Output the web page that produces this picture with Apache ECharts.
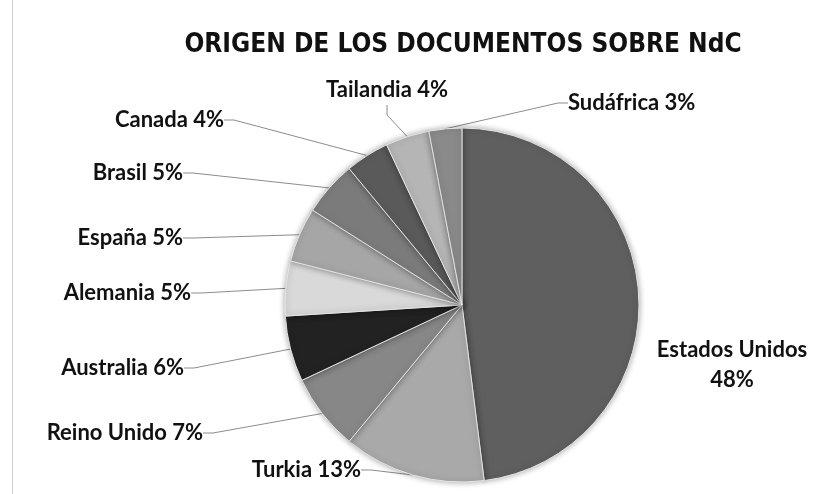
<!DOCTYPE html>
<html>
<head>
<meta charset="utf-8">
<script src="https://cdn.jsdelivr.net/npm/echarts@6/dist/echarts.min.js"></script>
<style>
html, body { margin: 0; padding: 0; background: #fff; }
#main { width: 821px; height: 494px; }
</style>
</head>
<body>
<div id="main"></div>
<script>
// datos del grafico
var paises = ['Estados Unidos', 'Turkia', 'Reino Unido', 'Australia', 'Alemania', 'España', 'Brasil', 'Canada', 'Tailandia', 'Sudáfrica'];
var porcentajes = [48, 13, 7, 6, 5, 5, 5, 4, 4, 3];
var colores = ['#5f5f5f', '#a9a9a9', '#878787', '#222222', '#d9d9d9', '#a6a6a6', '#7b7b7b', '#5a5a5a', '#b5b5b5', '#8a8a8a'];
// posicion de cada etiqueta [x, y, alineacion]
var posEtiquetas = [
	[732, 365, 'center'],
	[361, 470, 'right'],
	[203, 433, 'right'],
	[184, 368, 'right'],
	[191, 293, 'right'],
	[183, 238, 'right'],
	[183, 173, 'right'],
	[224, 120, 'right'],
	[448, 90, 'right'],
	[568, 103, 'left']
];

var myChart = echarts.init(document.getElementById('main'));

var datos = [];
for (var i = 0; i < paises.length; i++) {
	datos.push({
		name : paises[i],
		value : porcentajes[i],
		itemStyle : { color : colores[i] },
		labelLine : { show : i != 0 }
	});
}

var option = {
	animation : false,
	title : {
		text : 'ORIGEN DE LOS DOCUMENTOS SOBRE NdC',
		left : 458,
		textAlign : 'center',
		top : 27,
		textStyle : {
			fontFamily : 'DejaVu Sans Condensed',
			fontWeight : 'bold',
			fontSize : 26,
			color : '#111'
		}
	},
	graphic : [{
		type : 'line',
		shape : { x1 : 12.5, y1 : 0, x2 : 12.5, y2 : 494 },
		style : { stroke : '#d0d0d0', lineWidth : 1 }
	}],
	series : [{
		type : 'pie',
		center : [462, 305],
		radius : 177,
		startAngle : 90,
		clockwise : true,
		data : datos,
		itemStyle : {
			borderColor : '#e4e4e4',
			borderWidth : 1,
			shadowBlur : 6,
			shadowColor : 'rgba(0,0,0,0.35)'
		},
		label : {
			position : 'outside',
			fontFamily : 'Lato',
			fontWeight : 'bold',
			fontSize : 22,
			lineHeight : 30,
			color : '#111',
			overflow : 'none',
			formatter : function(p) {
				if (p.value > 20) return p.name + '\n' + p.value + '%';
				return p.name + ' ' + p.value + '%';
			}
		},
		labelLine : {
			length : 20,
			length2 : 10,
			lineStyle : { color : '#8c8c8c', width : 1 }
		},
		labelLayout : function(params) {
			var p = posEtiquetas[params.dataIndex];
			return {
				x : p[0],
				y : p[1],
				align : p[2],
				verticalAlign : 'middle',
				hideOverlap : false,
				moveOverlap : false
			};
		}
	}]
};
myChart.setOption(option);
</script>
</body>
</html>
